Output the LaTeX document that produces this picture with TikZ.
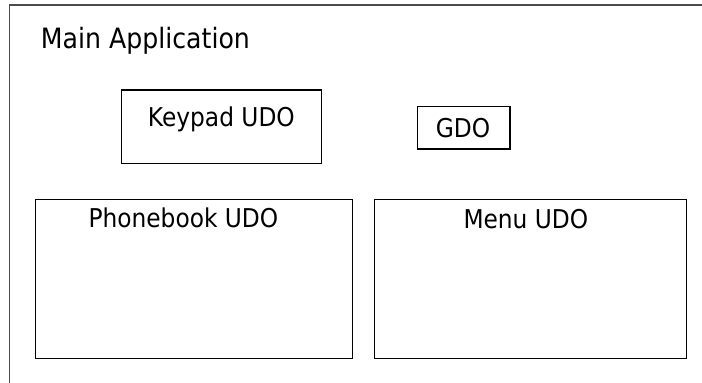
\documentclass[tikz,border=0pt]{standalone}
\usepackage{fontspec}
\newfontfamily\diagfont[FakeStretch=0.9]{DejaVu Sans}
\begin{document}
\begin{tikzpicture}[x=1pt,y=-1pt,
  frameline/.style={draw=black!70,line width=1.3pt},
  udobox/.style={draw=black,line width=1.3pt,rectangle,inner sep=0pt,anchor=north west},
  titletext/.style={anchor=base west,inner sep=0pt,font=\diagfont\fontsize{28}{32}\selectfont},
  boxtext/.style={anchor=base west,inner sep=0pt,font=\diagfont\fontsize{25.9}{30}\selectfont}]
\useasboundingbox (0,0) rectangle (702,383);
% outer application frame (runs past the right and bottom edges)
\coordinate (fbl) at (9.5,383);
\coordinate (ftl) at (9.5,5);
\coordinate (ftr) at (702,5);
\draw[frameline] (fbl) -- (ftl) -- (ftr);
\node[titletext] (title) at (40.7,48.3) {Main Application};
% contained objects
\node[udobox,minimum width=200pt,minimum height=73.7pt] (keypad) at (120.7,89.3) {};
\node[boxtext] (keypadlbl) at (147.7,126.7) {Keypad UDO};
\node[udobox,minimum width=92.6pt,minimum height=42.3pt] (gdo) at (416.7,106) {};
\node[boxtext] (gdolbl) at (435.7,137.3) {GDO};
\node[udobox,minimum width=317pt,minimum height=158.7pt] (phonebook) at (35,199) {};
\node[boxtext] (phonebooklbl) at (88.3,227.7) {Phonebook UDO};
\node[udobox,minimum width=312pt,minimum height=158.7pt] (menu) at (374,199) {};
\node[boxtext] (menulbl) at (463.3,228) {Menu UDO};
\end{tikzpicture}
\end{document}
